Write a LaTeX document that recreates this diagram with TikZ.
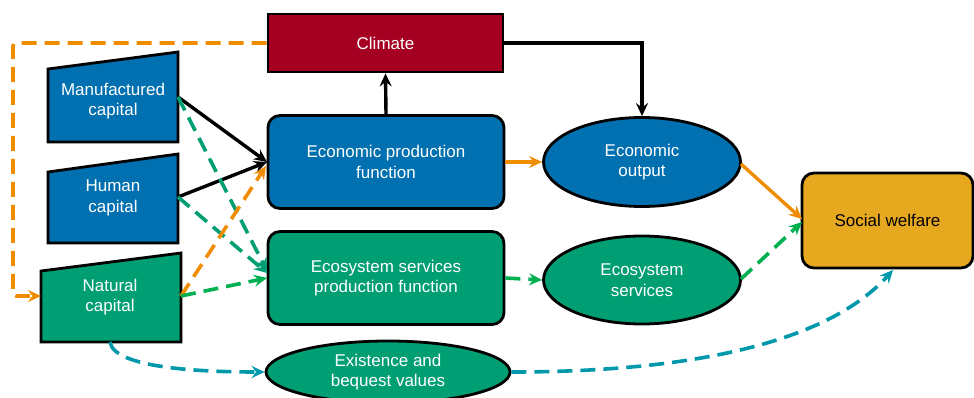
\documentclass[tikz,border=0pt]{standalone}
\usepackage{fontspec}
\setmainfont{Liberation Sans}
\usetikzlibrary{shapes.geometric,arrows.meta}
\definecolor{capblue}{RGB}{0,112,176}
\definecolor{capgreen}{RGB}{0,158,115}
\definecolor{climred}{RGB}{165,0,33}
\definecolor{welfgold}{RGB}{230,168,30}
\definecolor{flowor}{RGB}{240,140,0}
\definecolor{flowgreen}{RGB}{0,176,80}
\definecolor{flowteal}{RGB}{0,152,170}
\begin{document}
\begin{tikzpicture}[x=1pt,y=-1pt,
  every node/.style={font=\fontsize{17}{20.5}\selectfont, align=center},
  box/.style={draw=black, line width=2.8pt, rounded corners=12pt, text=white,
              minimum width=236pt, minimum height=93pt, inner sep=0pt},
  oval/.style={draw=black, line width=2.8pt, ellipse, text=white, inner sep=0pt},
  capshape/.style={draw=black, line width=2.8pt, line join=miter},
  captext/.style={text=white, inner sep=0pt},
  tip/.style={-{Stealth[length=13pt,width=12pt,inset=4.5pt]}},
  solidarrow/.style={tip, line width=3.4pt},
  orarrow/.style={tip, line width=3.4pt, draw=flowor, color=flowor},
  dasharrow/.style={tip, line width=3.6pt, dash pattern=on 15pt off 8pt},
]
\useasboundingbox (0,0) rectangle (974,398);

% capital stocks (slanted-top boxes)
\draw[capshape, fill=capblue] (48,69) -- (178,52) -- (178,142) -- (48,142) -- cycle;
\node[captext] (mc) at (113,101) {Manufactured\\capital};
\coordinate (mc-out) at (178,97);
\draw[capshape, fill=capblue] (48,172) -- (178,154) -- (178,243) -- (48,243) -- cycle;
\node[captext] (hc) at (113,198) {Human\\capital};
\coordinate (hc-out) at (178,197);
\draw[capshape, fill=capgreen] (41,271) -- (181,253) -- (181,342) -- (41,342) -- cycle;
\node[captext] (nc) at (110,297) {Natural\\capital};
\coordinate (nc-out) at (181,296);
\coordinate (nc-in) at (41,296);
\coordinate (nc-bot) at (110,342);

% climate, production functions and outputs
\node[box, fill=climred, rounded corners=0pt, minimum width=235pt, minimum height=58pt]
  (clim) at (385.5,43) {Climate};
\node[box, fill=capblue] (epf) at (386,162) {Economic production\\function};
\node[box, fill=capgreen] (espf) at (386,278) {Ecosystem services\\production function};
\node[oval, fill=capblue, minimum width=197pt, minimum height=89pt]
  (eo) at (642,162) {Economic\\output};
\node[oval, fill=capgreen, minimum width=197pt, minimum height=88pt]
  (es) at (642,280) {Ecosystem\\services};
\node[oval, fill=capgreen, minimum width=244pt, minimum height=62pt]
  (ev) at (388,372) {Existence and\\bequest values};
\node[box, fill=welfgold, text=black, minimum width=171pt, minimum height=95pt]
  (sw) at (887.5,220.5) {Social welfare};

% feedback of climate onto natural capital
\coordinate (loop-a) at (13,43);
\coordinate (loop-b) at (13,296);
\draw[dasharrow, draw=flowor, color=flowor, rounded corners=3pt]
  (clim.west) -- (loop-a) -- (loop-b) -- (nc-in);

% inputs to the economic production function
\coordinate (epf-in) at (267,162);
\draw[solidarrow] (mc-out) -- (epf-in);
\draw[solidarrow] (hc-out) -- (epf-in);

% inputs to the ecosystem services production function
\coordinate (espf-in-a) at (267,271);
\coordinate (espf-in-b) at (267,273);
\coordinate (espf-in-c) at (267,278);
\draw[dasharrow, draw=capgreen, color=capgreen] (mc-out) -- (espf-in-a);
\draw[dasharrow, draw=capgreen, color=capgreen] (hc-out) -- (espf-in-b);
\draw[dasharrow, draw=flowor, color=flowor] (nc-out) -- (266,166);
\draw[dasharrow, draw=flowgreen, color=flowgreen] (nc-out) -- (espf-in-c);

% climate links
\draw[solidarrow] (epf.north) -- (clim.south);
\coordinate (clim-corner) at (642,43);
\draw[solidarrow] (clim.east) -- (clim-corner) -- (eo.north);

% outputs
\draw[orarrow] (epf.east) -- (eo.west);
\draw[dasharrow, draw=flowgreen, color=flowgreen] (espf.east) -- (es.west);
\coordinate (eo-out) at (741,164);
\coordinate (es-out) at (741,279);
\coordinate (sw-in-a) at (802,219);
\coordinate (sw-in-b) at (802,222);
\draw[orarrow] (eo-out) -- (sw-in-a);
\draw[dasharrow, draw=flowgreen, color=flowgreen] (es-out) -- (sw-in-b);

% existence and bequest values
\draw[dasharrow, draw=flowteal, color=flowteal]
  (nc-bot) .. controls (114,368) and (200,372) .. (ev.west);
\coordinate (sw-bot) at (893,270);
\draw[dasharrow, draw=flowteal, color=flowteal]
  (ev.east) .. controls (700,372) and (830,340) .. (sw-bot);
\end{tikzpicture}
\end{document}
